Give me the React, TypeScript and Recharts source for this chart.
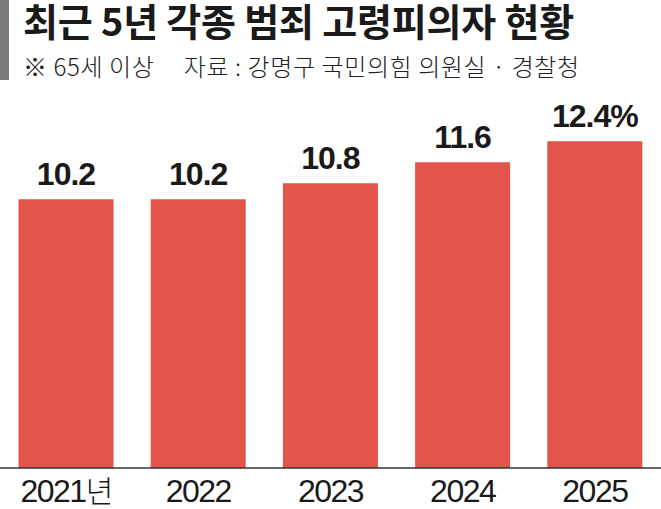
import React from "react"
import { Bar, BarChart, LabelList, XAxis, YAxis } from "recharts"

const years = ["2021년", "2022", "2023", "2024", "2025"]
const rates = [10.2, 10.2, 10.8, 11.6, 12.4]
const rateLabels = ["10.2", "10.2", "10.8", "11.6", "12.4%"]

const data = years.map((year, i) => ({ year, rate: rates[i], label: rateLabels[i] }))

const KR = "'Noto Sans CJK KR', 'Noto Sans', sans-serif"
const NUM = "'Liberation Sans Narrow', 'Liberation Sans', Arial, sans-serif"

function YearTick(props: any) {
  const { x, y, payload } = props
  const value: string = payload.value
  return (
    <text
      x={x}
      y={y + 26}
      textAnchor="middle"
      fontFamily={NUM}
      fontSize={32}
      fill="#1a1a1a"
      style={{ letterSpacing: -1.5 }}
    >
      {value.replace("년", "")}
      {value.endsWith("년") && (
        <tspan fontFamily={KR} fontSize={30} fontWeight={300}>
          년
        </tspan>
      )}
    </text>
  )
}

export default function App() {
  return (
    <div style={{ position: "absolute", left: 0, top: 0, width: 661, height: 509, background: "#fff" }}>
      <div style={{ position: "absolute", left: 0, top: 0, width: 9, height: 80, background: "#7a7a7a" }} />
      <div
        style={{
          position: "absolute",
          left: 23,
          top: 0,
          lineHeight: "40px",
          fontFamily: KR,
          fontWeight: 700,
          fontSize: 38,
          letterSpacing: -0.2,
          color: "#1a1a1a",
          whiteSpace: "nowrap",
        }}
      >
        최근 5년 각종 범죄 고령피의자 현황
      </div>
      <div
        style={{
          position: "absolute",
          left: 23,
          top: 50,
          lineHeight: "32px",
          fontFamily: KR,
          fontWeight: 300,
          fontSize: 24,
          letterSpacing: 0.6,
          color: "#222",
          whiteSpace: "pre",
        }}
      >
        {"※ 65세 이상     자료 : 강명구 국민의힘 의원실 · 경찰청"}
      </div>
      <BarChart
        width={661}
        height={509}
        data={data}
        margin={{ top: 99, right: 0, bottom: 0, left: 0 }}
        barCategoryGap="14%"
      >
        <XAxis
          dataKey="year"
          axisLine={{ stroke: "#333", strokeWidth: 1.5 }}
          tickLine={false}
          tick={<YearTick />}
          height={41}
          interval={0}
        />
        <YAxis hide domain={[0, 14]} />
        <Bar dataKey="rate" fill="#e2534a" isAnimationActive={false}>
          <LabelList
            dataKey="label"
            position="top"
            offset={14}
            fill="#1a1a1a"
            fontFamily={NUM}
            fontWeight={700}
            fontSize={32}
            style={{ letterSpacing: -1 }}
          />
        </Bar>
      </BarChart>
    </div>
  )
}
